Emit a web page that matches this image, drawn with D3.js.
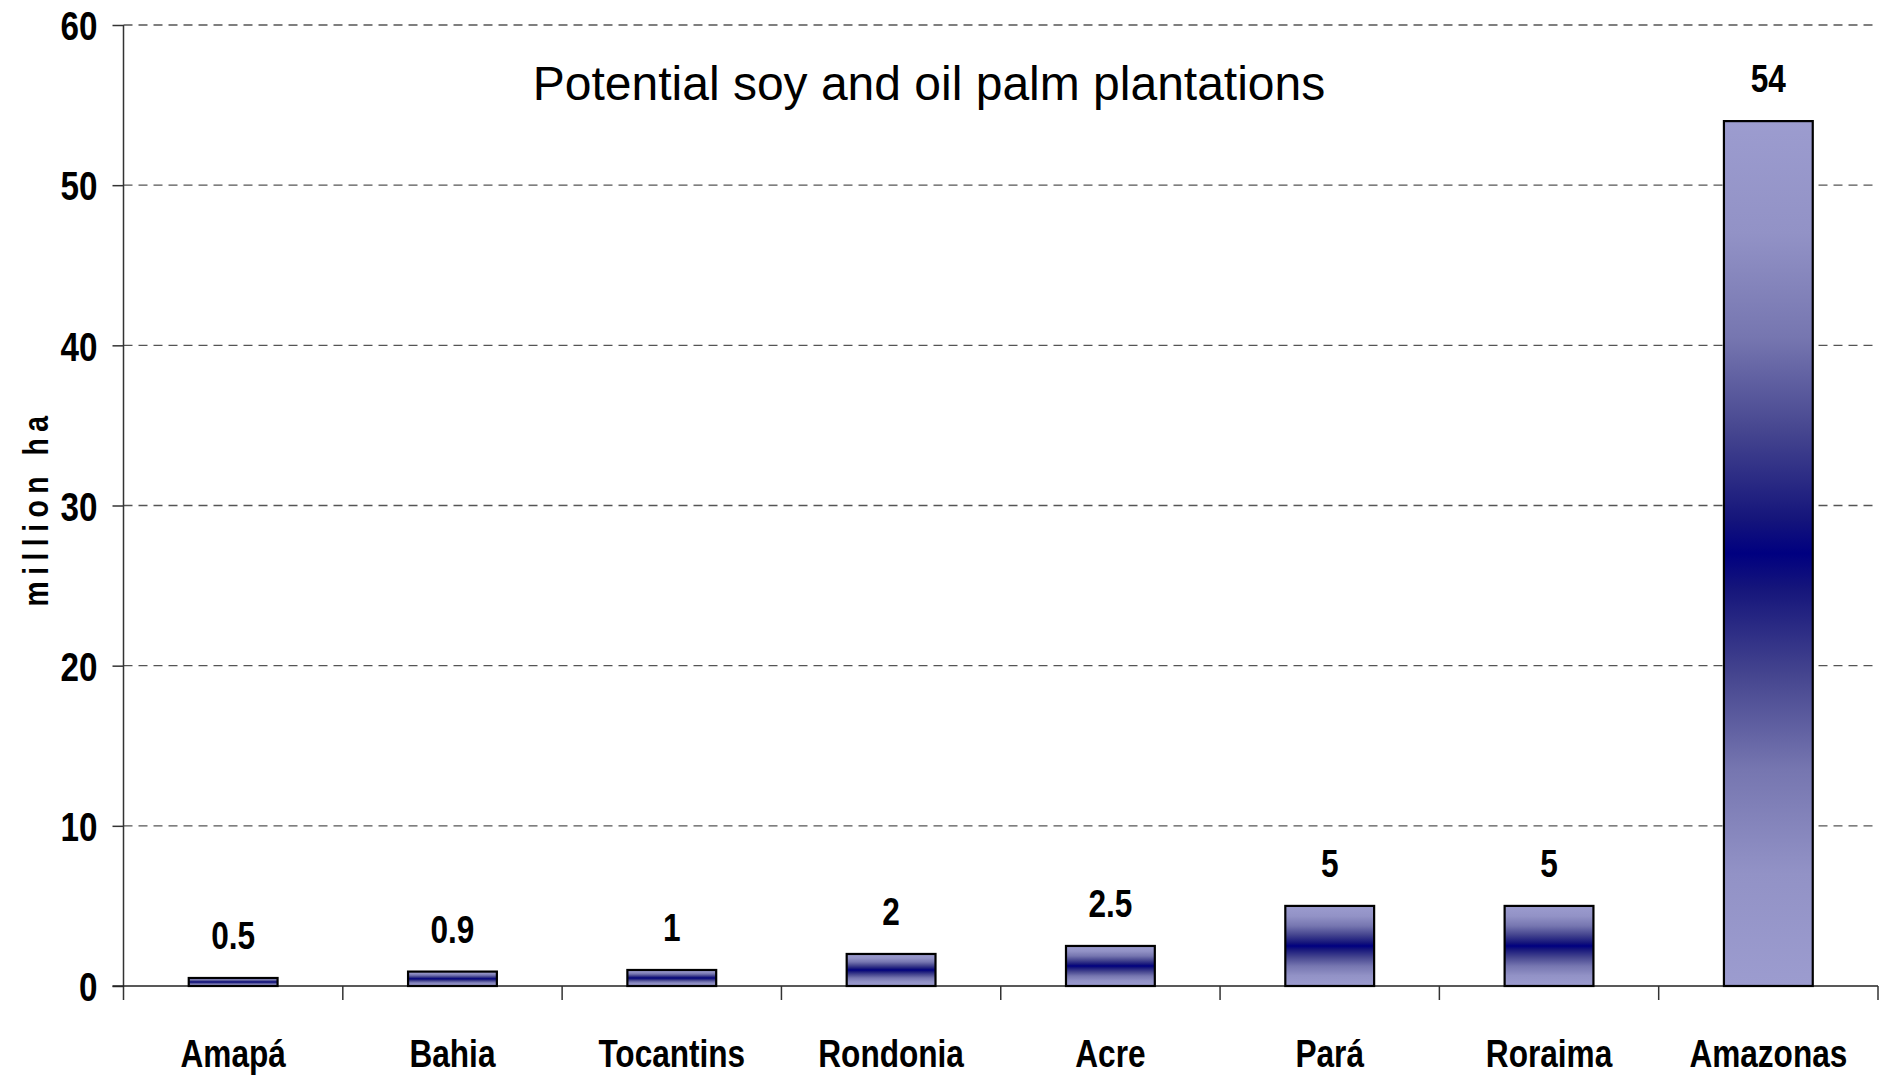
<!DOCTYPE html>
<html>
<head>
<meta charset="utf-8">
<script src="https://cdn.jsdelivr.net/npm/d3@7"></script>
<style>
  html, body { margin: 0; padding: 0; background: #fff; }
  svg { display: block; }
  .narrow { font-family: "Liberation Sans", Arial, sans-serif; font-weight: bold; }
</style>
</head>
<body>
<svg id="chart" width="1881" height="1076"></svg>
<script>
// Brazilian states and potential plantation area (million ha)
const states = ["Amapá", "Bahia", "Tocantins", "Rondonia", "Acre", "Pará", "Roraima", "Amazonas"];
const areas = [0.5, 0.9, 1, 2, 2.5, 5, 5, 54];
const areaLabels = ["0.5", "0.9", "1", "2", "2.5", "5", "5", "54"];
const yTicks = [0, 10, 20, 30, 40, 50, 60];

const title = "Potential soy and oil palm plantations";
const yTitle = "million ha";

const W = 1881, H = 1076;
const plot = { left: 123.5, right: 1878, top: 25, bottom: 986 };
const SQ = 0.81; // horizontal squeeze giving a narrow bold face

const svg = d3.select("#chart");

const x = d3.scaleBand().domain(states).range([plot.left, plot.right]).padding(0);
const y = d3.scaleLinear().domain([0, 60]).range([plot.bottom, plot.top]);
const barW = x.bandwidth() * 0.405;

// place a narrow label at (px, py)
function narrowAt(px, py) {
  return `translate(${px},${py}) scale(${SQ},1)`;
}

// vertical gradient: light at the ends, navy in the middle
const defs = svg.append("defs");
const grad = defs.append("linearGradient")
  .attr("id", "barFill").attr("x1", 0).attr("y1", 0).attr("x2", 0).attr("y2", 1);
[[0, "#9c9ccf"], [0.13, "#9292c6"], [0.25, "#7676b0"], [0.36, "#45458f"],
 [0.46, "#15157b"], [0.5, "#000080"], [0.54, "#15157b"], [0.64, "#45458f"],
 [0.75, "#7676b0"], [0.87, "#9292c6"], [1, "#9c9ccf"]].forEach(([o, c]) =>
  grad.append("stop").attr("offset", o).attr("stop-color", c));

// dashed gridlines
svg.append("g")
  .selectAll("line")
  .data(yTicks.filter(d => d > 0))
  .join("line")
  .attr("x1", plot.left).attr("x2", plot.right)
  .attr("y1", d => y(d)).attr("y2", d => y(d))
  .attr("stroke", "#555").attr("stroke-width", 1.4)
  .attr("stroke-dasharray", "9,6");

// y axis
const yAxis = svg.append("g")
  .attr("transform", `translate(${plot.left},0)`)
  .call(d3.axisLeft(y).tickValues(yTicks).tickSize(11).tickPadding(15).tickFormat(d3.format("d")));
yAxis.select(".domain").attr("stroke", "#333").attr("stroke-width", 1.5)
  .attr("d", `M0,${y(60)}V${plot.bottom + 14}`);
yAxis.selectAll(".tick line").attr("stroke", "#333").attr("stroke-width", 1.5);
yAxis.selectAll(".tick text")
  .attr("class", "narrow").attr("font-size", 41).attr("fill", "#000")
  .attr("x", -26 / SQ)
  .attr("transform", `scale(${SQ},1)`)
  .attr("dy", "0.36em");

// x axis: line along zero with ticks at category boundaries
const xg = svg.append("g");
xg.append("line")
  .attr("x1", plot.left - 11).attr("x2", plot.right)
  .attr("y1", y(0)).attr("y2", y(0))
  .attr("stroke", "#222").attr("stroke-width", 1.5);
const bounds = states.map(s => x(s) + x.bandwidth());
xg.selectAll("line.tk")
  .data(bounds)
  .join("line").attr("class", "tk")
  .attr("x1", d => d).attr("x2", d => d)
  .attr("y1", y(0)).attr("y2", y(0) + 14)
  .attr("stroke", "#333").attr("stroke-width", 1.5);
xg.selectAll("text")
  .data(states)
  .join("text")
  .attr("class", "narrow")
  .attr("transform", d => narrowAt(x(d) + x.bandwidth() / 2, y(0) + 81))
  .attr("text-anchor", "middle")
  .attr("font-size", 39)
  .text(d => d);

// bars
svg.append("g")
  .selectAll("rect")
  .data(areas)
  .join("rect")
  .attr("x", (d, i) => x(states[i]) + (x.bandwidth() - barW) / 2)
  .attr("y", d => y(d))
  .attr("width", barW)
  .attr("height", d => y(0) - y(d))
  .attr("fill", "url(#barFill)")
  .attr("stroke", "#000").attr("stroke-width", 2.2);

// value labels
svg.append("g")
  .selectAll("text")
  .data(areas)
  .join("text")
  .attr("class", "narrow")
  .attr("transform", (d, i) => narrowAt(x(states[i]) + x.bandwidth() / 2, y(d) - 29))
  .attr("text-anchor", "middle")
  .attr("font-size", 39)
  .text((d, i) => areaLabels[i]);

// title
svg.append("text")
  .attr("x", 929).attr("y", 100)
  .attr("text-anchor", "middle")
  .attr("font-family", "'Liberation Sans', Arial, sans-serif")
  .attr("font-size", 48)
  .text(title);

// y axis title
svg.append("text")
  .attr("class", "narrow")
  .attr("transform", `translate(48,508) rotate(-90) scale(${SQ},1)`)
  .attr("text-anchor", "middle")
  .attr("font-size", 35)
  .attr("letter-spacing", 8)
  .text(yTitle);
</script>
</body>
</html>
